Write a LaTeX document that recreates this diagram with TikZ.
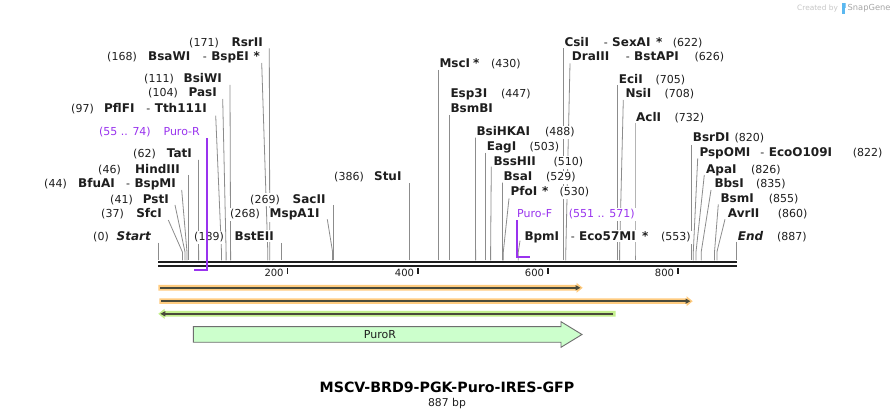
\documentclass[tikz,border=0pt]{standalone}
\usepackage{fontspec}
\setmainfont{DejaVu Sans}
\usetikzlibrary{arrows.meta}
\definecolor{txt}{HTML}{1E1E1E}
\definecolor{leadc}{HTML}{8C8C8C}
\definecolor{prim}{HTML}{9933EE}
\definecolor{orgband}{HTML}{FFCC80}
\definecolor{grnband}{HTML}{C4F08E}
\definecolor{darkln}{HTML}{4A4A3A}
\definecolor{puro}{HTML}{CCFFCC}
\definecolor{puroedge}{HTML}{6E6E6E}
\definecolor{logoblue}{HTML}{5BB8F0}
\newcommand\dsh{{\fontsize{11}{13}\selectfont\mdseries -\hspace{0.4em}}}
\tikzset{
  num/.style={font=\fontsize{11}{13}\selectfont, text=txt, fill=white, inner xsep=1pt, inner ysep=1.5pt},
  enz/.style={font=\fontsize{12}{14}\selectfont\bfseries, text=txt, fill=white, inner xsep=1pt, inner ysep=1.5pt},
  endlbl/.style={font=\fontsize{12}{14}\selectfont\bfseries\itshape, text=txt, fill=white, inner xsep=1pt, inner ysep=1.5pt},
  primt/.style={font=\fontsize{11}{13}\selectfont, text=prim, fill=white, inner xsep=1pt, inner ysep=1.5pt},
  lead/.style={draw=leadc, line width=0.8pt},
  primline/.style={draw=prim, line width=2pt},
  backbone/.style={draw=txt, line width=2.3pt},
  tick/.style={draw=txt, line width=1.6pt},
  ticklbl/.style={font=\fontsize{10}{12}\selectfont, text=txt, inner sep=0pt},
  darkarrow/.style={draw=darkln, line width=1.5pt},
}
\newcommand\leadline[4]{%
  \coordinate (#1t) at (#2,#3);
  \coordinate (#1b) at (#4,260.5);
  \draw[lead] (#1t) -- (#4,252) -- (#1b);}
\begin{document}
\begin{tikzpicture}[x=1pt,y=-1pt]
\useasboundingbox (0,0) rectangle (895,419);
\fill[white] (0,0) rectangle (895,419);

% ---------- leader lines ----------
\leadline{L171}{269.3}{48.3}{269.8}
\leadline{L168}{261.7}{63}{267.8}
\leadline{L111}{230}{85}{230.6}
\leadline{L104}{222.7}{99}{226.1}
\leadline{L97}{215.7}{115.7}{221.5}
\leadline{L62}{198.5}{160}{198.6}
\leadline{L46}{188.3}{175}{188.3}
\leadline{L44}{181.7}{190}{187}
\leadline{L41}{175}{205}{185}
\leadline{L37}{168.3}{220}{182.4}
\leadline{L0}{158.3}{242.7}{158.3}
\leadline{L189}{281.7}{243}{281.7}
\leadline{L269}{333.5}{205}{333.5}
\leadline{L268}{327.3}{219.3}{332.6}
\leadline{L386}{409.3}{183.3}{409.3}
\leadline{L430}{438.7}{70}{438.7}
\leadline{L447}{449.3}{115}{449.3}
\leadline{L488}{475.4}{137.7}{475.6}
\leadline{L503}{485.7}{152.7}{485.7}
\leadline{L510}{491.3}{166.7}{490.6}
\leadline{L529}{502.4}{182.7}{502.6}
\leadline{L530}{509}{198.3}{503.3}
\leadline{L553}{520}{240.7}{518.3}
\leadline{L622}{563.3}{48.3}{563.3}
\leadline{L626}{570}{63.3}{565.8}
\leadline{L705}{617.7}{85}{617.7}
\leadline{L708}{623.3}{100}{619.6}
\leadline{L732}{635}{123.3}{635}
\leadline{L820}{691.7}{145}{691.7}
\leadline{L822}{697.7}{158.3}{693.3}
\leadline{L826}{704.3}{175}{696}
\leadline{L835}{711}{190}{701.2}
\leadline{L855}{718.3}{204.3}{714.5}
\leadline{L860}{725}{219.3}{716.9}
\leadline{L887}{736.7}{241.7}{736.7}

% ---------- backbone ----------
\coordinate (bbA) at (158,262.2);
\coordinate (bbB) at (736.8,262.2);
\coordinate (bbC) at (158,265.7);
\coordinate (bbD) at (736.8,265.7);
\draw[backbone] (bbA) -- (bbB);
\draw[backbone] (bbC) -- (bbD);

% ticks
\foreach \xx/\lbl in {287.3/200,417.7/400,547.7/600,677.7/800}{
  \draw[tick] (\xx,268.5) -- (\xx,274.5);
  \node[ticklbl,anchor=base east] (tk\lbl) at (\xx-3.5,276.8) {\lbl};
}

% ---------- left-side labels ----------
\node[num,anchor=base east] (n171) at (220,46.3) {(171)};
\node[enz,anchor=base east] (e171) at (264,46.3) {RsrII};

\node[num,anchor=base east] (n168) at (138,60.7) {(168)};
\node[enz,anchor=base west] (e168a) at (147,60.7) {BsaWI};
\node[enz,anchor=base east] (e168b) at (250,60.7) {\dsh BspEI};
\node[enz,anchor=base west] (s168) at (252.5,60.7) {*};

\node[num,anchor=base east] (n111) at (175,83) {(111)};
\node[enz,anchor=base east] (e111) at (223,83) {BsiWI};

\node[num,anchor=base east] (n104) at (179,96.7) {(104)};
\node[enz,anchor=base east] (e104) at (218,96.7) {PasI};

\node[num,anchor=base east] (n97) at (95,113) {(97)};
\node[enz,anchor=base west] (e97a) at (103,113) {PflFI};
\node[enz,anchor=base east] (e97b) at (208,113) {\dsh Tth111I};

\node[num,anchor=base east] (n62) at (157,158) {(62)};
\node[enz,anchor=base east] (e62) at (193,158) {TatI};

\node[num,anchor=base east] (n46) at (122,173.3) {(46)};
\node[enz,anchor=base east] (e46) at (181,173.3) {HindIII};

\node[num,anchor=base east] (n44) at (68,187.3) {(44)};
\node[enz,anchor=base west] (e44a) at (77,187.3) {BfuAI};
\node[enz,anchor=base east] (e44b) at (177,187.3) {\dsh BspMI};

\node[num,anchor=base east] (n41) at (134,203.3) {(41)};
\node[enz,anchor=base east] (e41) at (170,203.3) {PstI};

\node[num,anchor=base east] (n37) at (125,218) {(37)};
\node[enz,anchor=base east] (e37) at (163,218) {SfcI};

\node[num,anchor=base east] (n0) at (110,240.7) {(0)};
\node[endlbl,anchor=base east] (e0) at (152,240.7) {Start};

\node[num,anchor=base east] (n189) at (225,240.7) {(189)};
\node[enz,anchor=base east] (e189) at (275,240.7) {BstEII};

\node[num,anchor=base east] (n269) at (281,203.3) {(269)};
\node[enz,anchor=base east] (e269) at (326.7,203.3) {SacII};

\node[num,anchor=base east] (n268) at (261,218) {(268)};
\node[enz,anchor=base east] (e268) at (320.7,218) {MspA1I};

\node[num,anchor=base east] (n386) at (365,180.7) {(386)};
\node[enz,anchor=base east] (e386) at (402.7,180.7) {StuI};

% ---------- right-side labels ----------
\node[enz,anchor=base west] (e430) at (438.3,67.3) {MscI};
\node[enz,anchor=base west] (s430) at (472,67.3) {*};
\node[num,anchor=base west] (n430) at (490,67.3) {(430)};

\node[enz,anchor=base west] (e447) at (449.3,98) {Esp3I};
\node[num,anchor=base west] (n447) at (500,98) {(447)};
\node[enz,anchor=base west] (e447b) at (449.3,113) {BsmBI};

\node[enz,anchor=base west] (e488) at (475.3,135.7) {BsiHKAI};
\node[num,anchor=base west] (n488) at (544,135.7) {(488)};

\node[enz,anchor=base west] (e503) at (485.7,150.7) {EagI};
\node[num,anchor=base west] (n503) at (528.3,150.7) {(503)};

\node[enz,anchor=base west] (e510) at (492.3,166) {BssHII};
\node[num,anchor=base west] (n510) at (552.3,166) {(510)};

\node[enz,anchor=base west] (e529) at (502.3,180.7) {BsaI};
\node[num,anchor=base west] (n529) at (545,180.7) {(529)};

\node[enz,anchor=base west] (e530) at (509.3,195.7) {PfoI};
\node[enz,anchor=base west] (s530) at (541,195.7) {*};
\node[num,anchor=base west] (n530) at (558.3,195.7) {(530)};

\node[enz,anchor=base west] (e553a) at (523.3,240.7) {BpmI};
\node[enz,anchor=base east] (e553b) at (637,240.7) {\dsh Eco57MI};
\node[enz,anchor=base west] (s553) at (641,240.7) {*};
\node[num,anchor=base west] (n553) at (660,240.7) {(553)};

\node[enz,anchor=base west] (e622a) at (563.3,46.3) {CsiI};
\node[enz,anchor=base east] (e622b) at (651.7,46.3) {\dsh SexAI};
\node[enz,anchor=base west] (s622) at (655,46.3) {*};
\node[num,anchor=base west] (n622) at (671.7,46.3) {(622)};

\node[enz,anchor=base west] (e626a) at (570.7,60.7) {DraIII};
\node[enz,anchor=base east] (e626b) at (680,60.7) {\dsh BstAPI};
\node[num,anchor=base west] (n626) at (693.3,60.7) {(626)};

\node[enz,anchor=base west] (e705) at (617.7,83.3) {EciI};
\node[num,anchor=base west] (n705) at (654.3,83.3) {(705)};

\node[enz,anchor=base west] (e708) at (624.3,98) {NsiI};
\node[num,anchor=base west] (n708) at (663.3,98) {(708)};

\node[enz,anchor=base west] (e732) at (635,121.7) {AclI};
\node[num,anchor=base west] (n732) at (673.3,121.7) {(732)};

\node[enz,anchor=base west] (e820) at (691.7,141.3) {BsrDI};
\node[num,anchor=base west] (n820) at (733.3,141.3) {(820)};

\node[enz,anchor=base west] (e822a) at (698.3,156.7) {PspOMI};
\node[enz,anchor=base east] (e822b) at (833.3,156.7) {\dsh EcoO109I};
\node[num,anchor=base west] (n822) at (851.7,156.7) {(822)};

\node[enz,anchor=base west] (e826) at (705,173.3) {ApaI};
\node[num,anchor=base west] (n826) at (750,173.3) {(826)};

\node[enz,anchor=base west] (e835) at (713.3,188) {BbsI};
\node[num,anchor=base west] (n835) at (755,188) {(835)};

\node[enz,anchor=base west] (e855) at (719.3,203) {BsmI};
\node[num,anchor=base west] (n855) at (767.7,203) {(855)};

\node[enz,anchor=base west] (e860) at (726.7,218) {AvrII};
\node[num,anchor=base west] (n860) at (776.7,218) {(860)};

\node[endlbl,anchor=base west] (e887) at (736.7,240.7) {End};
\node[num,anchor=base west] (n887) at (776,240.7) {(887)};

% ---------- primers ----------
\node[primt,anchor=base east] (pRn) at (152,135.7) {(55 .. 74)};
\node[primt,anchor=base east] (pRl) at (201,135.7) {Puro-R};
\coordinate (pRt) at (206.7,138.5);
\coordinate (pRc) at (206.7,270.5);
\coordinate (pRe) at (193.8,270.5);
\draw[primline] (pRt) -- (pRc) -- (pRe);

\node[primt,anchor=base west] (pFl) at (516,218) {Puro-F};
\node[primt,anchor=base west] (pFn) at (567.7,218) {(551 .. 571)};
\coordinate (pFt) at (516.8,220.5);
\coordinate (pFc) at (516.8,257.3);
\coordinate (pFe) at (529.6,257.3);
\draw[primline] (pFt) -- (pFc) -- (pFe);

% ---------- features ----------
% row 1 (orange, forward)
\fill[orgband] (158.3,285) -- (576.5,285) -- (576.5,282.8) -- (582.7,287.8) -- (576.5,292.8) -- (576.5,290.6) -- (158.3,290.6) -- cycle;
\coordinate (f1a) at (160,287.8);
\coordinate (f1b) at (580.5,287.8);
\draw[darkarrow,-{Triangle[length=5pt,width=5pt]}] (f1a) -- (f1b);
% row 2 (orange, forward)
\fill[orgband] (159.3,298.4) -- (686.5,298.4) -- (686.5,296.2) -- (692.7,301.2) -- (686.5,306.2) -- (686.5,304) -- (159.3,304) -- cycle;
\coordinate (f2a) at (161,301.2);
\coordinate (f2b) at (690.5,301.2);
\draw[darkarrow,-{Triangle[length=5pt,width=5pt]}] (f2a) -- (f2b);
% row 3 (green, reverse)
\fill[grnband] (615.7,311) -- (164.5,311) -- (164.5,308.8) -- (158.3,313.8) -- (164.5,318.8) -- (164.5,316.6) -- (615.7,316.6) -- cycle;
\coordinate (f3a) at (613.3,313.8);
\coordinate (f3b) at (160.3,313.8);
\draw[darkarrow,-{Triangle[length=5pt,width=5pt]}] (f3a) -- (f3b);

% PuroR gene
\draw[fill=puro, draw=puroedge, line width=0.9pt] (193.3,326.7) -- (561,326.7) -- (561,321.7) -- (582,334.5) -- (561,347.3) -- (561,342.3) -- (193.3,342.3) -- cycle;
\node[font=\fontsize{11}{13}\selectfont, text=txt, inner sep=0pt] (puroR) at (380,334.5) {PuroR};

% ---------- title ----------
\node[font=\fontsize{14.2}{16}\selectfont\bfseries, text=black, inner sep=0pt] (title) at (447,387.7) {MSCV-BRD9-PGK-Puro-IRES-GFP};
\node[font=\fontsize{10.8}{13}\selectfont, text=txt, inner sep=0pt] (size) at (447,403.3) {887 bp};

% ---------- logo ----------
\node[font=\fontsize{7.4}{9}\selectfont, text=black!22, inner sep=0pt, anchor=west] (logo1) at (797,8) {Created by};
\fill[logoblue] (841.5,3.5) rectangle (844.5,14) ;
\fill[logoblue!70] (844.5,3.5) rectangle (846,8.5);
\node[font=\fontsize{8.3}{10}\selectfont, text=black!35, inner sep=0pt, anchor=west] (logo2) at (847.5,8) {SnapGene};
\end{tikzpicture}
\end{document}
